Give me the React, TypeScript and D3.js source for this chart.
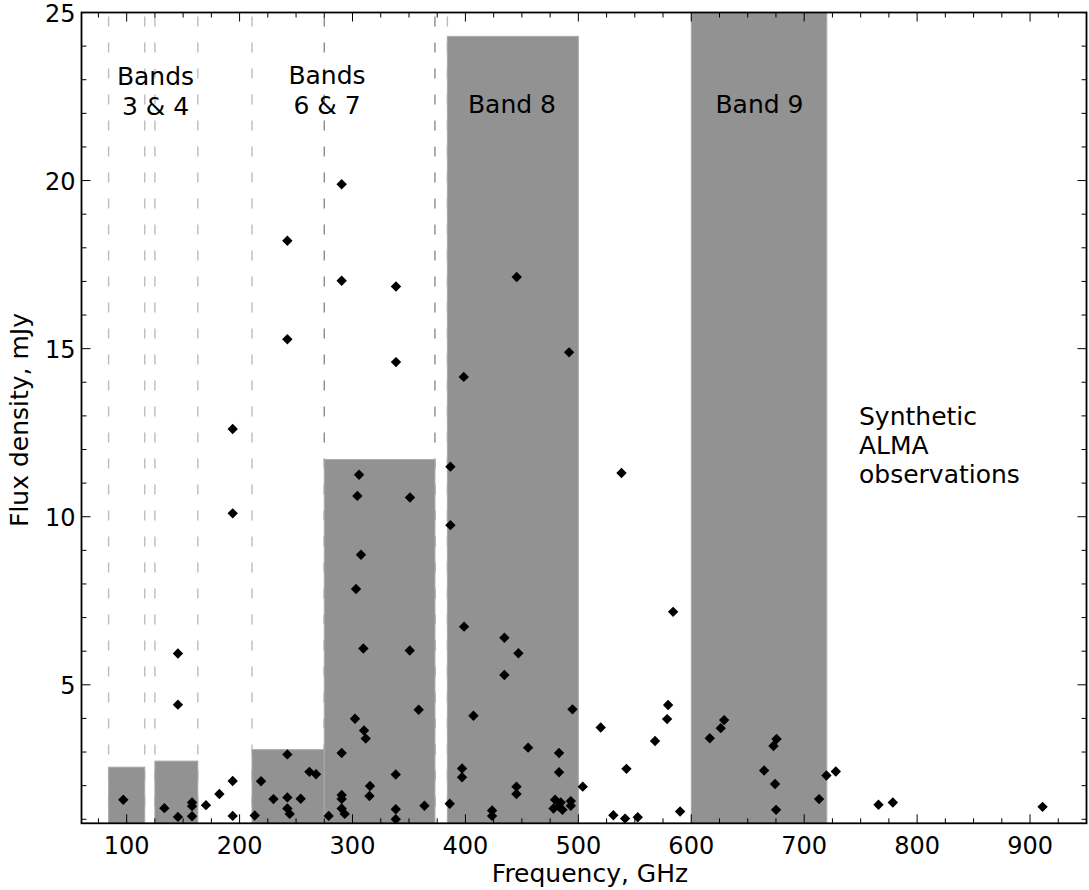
import React from "react";
import * as d3 from "d3";

const freqGHz = [
  97, 145.4, 145.4, 133.4, 145.4, 157.9, 157.9, 157.9, 170.2, 182.1,
  193.9, 193.9, 213.4, 219, 230, 242.3, 242.3, 242.3, 244.4, 254.1,
  261.8, 267.7, 278.9, 290.4, 290.4, 290.4, 290.4, 293.1, 303.1, 309.6,
  302.2, 310.2, 311.7, 315.5, 315, 290.4, 242.3, 290.4, 338.5, 242.3,
  338.5, 398.5, 193.9, 193.9, 386.7, 305.8, 304.3, 350.9, 386.7, 307.5,
  445.4, 491.8, 538.2, 350.7, 358.6, 338.3, 338.3, 338.3, 363.7, 386.1,
  398.8, 407.1, 397, 397, 423.6, 423.6, 434.5, 446.9, 434.5, 455.5,
  445.2, 445.2, 482.9, 482.9, 494.8, 479.4, 484.4, 478, 485.9, 493.3,
  493.3, 482.9, 503.9, 519.8, 531, 583.9, 579.5, 578.6, 567.9, 542.6,
  541.4, 552.6, 590.1, 616.4, 626.1, 629.1, 675.5, 672.8, 664.5, 674.2,
  675.1, 713.2, 719.7, 728, 765.8, 778.5, 911.1,
];
const fluxMJy = [
  1.58, 5.93, 4.41, 1.33, 1.07, 1.5, 1.39, 1.09, 1.42, 1.75,
  2.14, 1.1, 1.11, 2.13, 1.6, 2.93, 1.65, 1.32, 1.16, 1.61,
  2.41, 2.34, 1.1, 2.97, 1.72, 1.6, 1.32, 1.16, 7.85, 6.08,
  3.99, 3.64, 3.4, 1.99, 1.69, 19.89, 18.21, 17.02, 16.85, 15.28,
  14.6, 14.16, 12.61, 10.1, 11.49, 11.25, 10.62, 10.57, 9.75, 8.87,
  17.13, 14.89, 11.3, 6.02, 4.26, 2.33, 1.3, 1.0, 1.4, 1.46,
  6.73, 4.08, 2.51, 2.25, 1.26, 1.1, 6.4, 5.94, 5.29, 3.13,
  1.97, 1.75, 2.97, 2.4, 4.27, 1.58, 1.5, 1.32, 1.28, 1.54,
  1.4, 1.38, 1.97, 3.73, 1.12, 7.17, 4.4, 3.98, 3.33, 2.5,
  1.02, 1.06, 1.23, 3.41, 3.71, 3.95, 3.39, 3.18, 2.45, 2.05,
  1.28, 1.6, 2.3, 2.42, 1.43, 1.5, 1.37,
];

// ALMA bands
const bandLow = [84, 125, 211, 275, 384, 600];
const bandHigh = [116, 163, 275, 373, 500, 720];
const bandLevel = [2.55, 2.73, 3.07, 11.7, 24.29, 30];
const dashedEdges = [84, 116, 125, 163, 211, 275, 373, 384];
const darkEdges = [275, 373];

const xMajor = [100, 200, 300, 400, 500, 600, 700, 800, 900];
const yMajor = [5, 10, 15, 20, 25];

const W = 1089;
const H = 890;
const L = 81.5;
const R = 1086.5;
const T = 12.5;
const B = 823.3;
const FONT = "DejaVu Sans, sans-serif";

export default function App() {
  const x = d3.scaleLinear().domain([60, 950]).range([L, R]);
  const y = d3.scaleLinear().domain([0.88, 25]).range([B, T]);
  const xMinor = d3.range(75, 951, 25).filter((v) => v % 100 !== 0);
  const yMinor = d3.range(1, 25, 1).filter((v) => v % 5 !== 0);
  const diamond = (s: number) => `M0,${-s}L${s},0L0,${s}L${-s},0Z`;

  return (
    <svg
      width={W}
      height={H}
      style={{ position: "absolute", left: 0, top: 0, background: "#fff" }}
      fontFamily={FONT}
    >
      <defs>
        <clipPath id="plot">
          <rect x={L} y={T} width={R - L} height={B - T} />
        </clipPath>
      </defs>
      <g clipPath="url(#plot)">
        {dashedEdges.map((f, i) => (
          <line
            key={"d" + i}
            x1={x(f)}
            x2={x(f)}
            y1={T}
            y2={B}
            stroke={darkEdges.includes(f) ? "#8c8c8c" : "#bdbdbd"}
            strokeWidth={1.4}
            strokeDasharray="10,16"
            strokeDashoffset={-4}
          />
        ))}
        {bandLow.map((lo, i) => (
          <rect
            key={"b" + i}
            x={x(lo)}
            y={y(bandLevel[i])}
            width={x(bandHigh[i]) - x(lo)}
            height={B - y(bandLevel[i])}
            fill="#929292"
            stroke="#a9a9a9"
            strokeWidth={1}
          />
        ))}
        {freqGHz.map((f, i) => (
          <path
            key={"p" + i}
            d={diamond(5.2)}
            transform={`translate(${x(f)},${y(fluxMJy[i])})`}
            fill="#000"
          />
        ))}
      </g>

      {/* ticks */}
      <g stroke="#000" strokeWidth={1}>
        {xMajor.map((v) => (
          <g key={"xm" + v}>
            <line x1={x(v)} x2={x(v)} y1={B} y2={B - 9} />
            <line x1={x(v)} x2={x(v)} y1={T} y2={T + 9} />
          </g>
        ))}
        {xMinor.map((v) => (
          <g key={"xn" + v}>
            <line x1={x(v)} x2={x(v)} y1={B} y2={B - 5} />
            <line x1={x(v)} x2={x(v)} y1={T} y2={T + 5} />
          </g>
        ))}
        {yMajor.map((v) => (
          <g key={"ym" + v}>
            <line x1={L} x2={L + 9} y1={y(v)} y2={y(v)} />
            <line x1={R} x2={R - 9} y1={y(v)} y2={y(v)} />
          </g>
        ))}
        {yMinor.map((v) => (
          <g key={"yn" + v}>
            <line x1={L} x2={L + 5} y1={y(v)} y2={y(v)} />
            <line x1={R} x2={R - 5} y1={y(v)} y2={y(v)} />
          </g>
        ))}
      </g>

      {/* spines */}
      <rect
        x={L}
        y={T}
        width={R - L}
        height={B - T}
        fill="none"
        stroke="#000"
        strokeWidth={1.8}
      />

      {/* tick labels */}
      <g fontSize={24} fill="#000">
        {xMajor.map((v) => (
          <text key={"xl" + v} x={x(v)} y={B + 31} textAnchor="middle">
            {v}
          </text>
        ))}
        {yMajor.map((v) => (
          <text key={"yl" + v} x={L - 6} y={y(v) + 9} textAnchor="end">
            {v}
          </text>
        ))}
      </g>

      {/* axis labels */}
      <text x={(L + R) / 2 + 6} y={882} fontSize={25} textAnchor="middle">
        Frequency, GHz
      </text>
      <text
        transform={`translate(28,${420}) rotate(-90)`}
        fontSize={25}
        textAnchor="middle"
      >
        Flux density, mJy
      </text>

      {/* annotations */}
      <g fontSize={25} fill="#000" textAnchor="middle">
        <text x={155.5} y={84.5}>Bands</text>
        <text x={155.5} y={114.5}>3 &amp; 4</text>
        <text x={327} y={84}>Bands</text>
        <text x={327} y={114}>6 &amp; 7</text>
        <text x={512} y={113}>Band 8</text>
        <text x={759.5} y={113}>Band 9</text>
      </g>
      <g fontSize={25} fill="#000">
        <text x={859} y={424.5}>Synthetic</text>
        <text x={859} y={453.5}>ALMA</text>
        <text x={859} y={482.5}>observations</text>
      </g>
    </svg>
  );
}
